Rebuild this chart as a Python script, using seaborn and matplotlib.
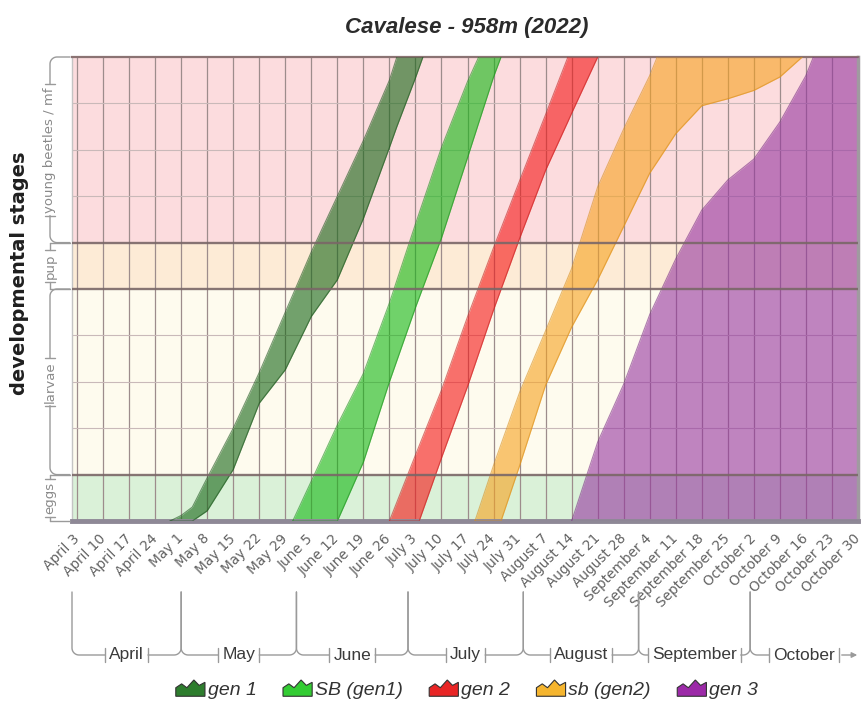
import numpy as np
import pandas as pd
import matplotlib
matplotlib.use("Agg")
import matplotlib.pyplot as plt
import matplotlib.dates as mdates
from matplotlib.lines import Line2D
from matplotlib.patches import Patch, Polygon, FancyArrowPatch
from matplotlib.legend_handler import HandlerPatch
import seaborn as sns

# ---------------- data ----------------
title = "Cavalese - 958m (2022)"
y_title = "developmental stages"

stage_names = ["eggs", "larvae", "pup", "young beetles / mf"]
stage_edges = [0, 1, 5, 6, 10]
stage_colors = ["#daf1d8", "#fefbee", "#fdebd6", "#fcdcde"]

tick_dates = ["2022-04-03", "2022-04-10", "2022-04-17", "2022-04-24", "2022-05-01",
              "2022-05-08", "2022-05-15", "2022-05-22", "2022-05-29", "2022-06-05",
              "2022-06-12", "2022-06-19", "2022-06-26", "2022-07-03", "2022-07-10",
              "2022-07-17", "2022-07-24", "2022-07-31", "2022-08-07", "2022-08-14",
              "2022-08-21", "2022-08-28", "2022-09-04", "2022-09-11", "2022-09-18",
              "2022-09-25", "2022-10-02", "2022-10-09", "2022-10-16", "2022-10-23",
              "2022-10-30"]
tick_labels = ["April 3", "April 10", "April 17", "April 24", "May 1", "May 8", "May 15",
               "May 22", "May 29", "June 5", "June 12", "June 19", "June 26", "July 3",
               "July 10", "July 17", "July 24", "July 31", "August 7", "August 14",
               "August 21", "August 28", "September 4", "September 11", "September 18",
               "September 25", "October 2", "October 9", "October 16", "October 23",
               "October 30"]

month_names = ["April", "May", "June", "July", "August", "September", "October"]
month_starts = ["2022-04-01", "2022-05-01", "2022-06-01", "2022-07-01",
                "2022-08-01", "2022-09-01", "2022-10-01"]

gen1_dates = ["2022-04-28", "2022-05-01", "2022-05-04", "2022-05-08", "2022-05-15",
              "2022-05-22", "2022-05-29", "2022-06-05", "2022-06-12", "2022-06-19",
              "2022-06-26", "2022-06-28", "2022-07-03", "2022-07-05"]
gen1_low = [0, 0, 0, 0.22, 1.11, 2.54, 3.26, 4.41, 5.2, 6.52, 8.05, 8.5, 9.55, 10]
gen1_high = [0, 0.12, 0.3, 0.93, 2.0, 3.2, 4.5, 5.8, 7.0, 8.2, 9.5, 10, 10, 10]

sb1_dates = ["2022-05-31", "2022-06-05", "2022-06-12", "2022-06-19", "2022-06-26",
             "2022-07-03", "2022-07-10", "2022-07-17", "2022-07-20", "2022-07-24",
             "2022-07-26"]
sb1_low = [0, 0, 0, 1.27, 3.0, 4.6, 6.1, 7.83, 8.58, 9.57, 10]
sb1_high = [0, 0.86, 2.07, 3.18, 4.7, 6.4, 8.05, 9.47, 10, 10, 10]

gen2_dates = ["2022-06-26", "2022-07-03", "2022-07-04", "2022-07-10", "2022-07-17",
              "2022-07-24", "2022-07-31", "2022-08-07", "2022-08-13", "2022-08-14",
              "2022-08-21"]
gen2_low = [0, 0, 0, 1.36, 2.9, 4.55, 6.09, 7.56, 8.61, 8.79, 10]
gen2_high = [0, 1.42, 1.62, 2.82, 4.4, 5.89, 7.33, 8.76, 10, 10, 10]

sb2_dates = ["2022-07-19", "2022-07-24", "2022-07-26", "2022-07-31", "2022-08-07",
             "2022-08-14", "2022-08-21", "2022-08-28", "2022-09-04", "2022-09-06",
             "2022-09-11", "2022-09-18", "2022-09-25", "2022-10-02", "2022-10-09",
             "2022-10-15"]
sb2_low = [0, 0, 0, 1.19, 2.93, 4.18, 5.2, 6.35, 7.5, 7.74, 8.35, 8.95, 9.1, 9.28, 9.57, 10]
sb2_high = [0, 1.2, 1.65, 2.77, 4.1, 5.44, 7.2, 8.45, 9.6, 10, 10, 10, 10, 10, 10, 10]

gen3_dates = ["2022-08-14", "2022-08-21", "2022-08-28", "2022-09-04", "2022-09-11",
              "2022-09-18", "2022-09-25", "2022-10-02", "2022-10-09", "2022-10-16",
              "2022-10-18", "2022-10-30"]
gen3_low = [0, 0, 0, 0, 0, 0, 0, 0, 0, 0, 0, 0]
gen3_high = [0, 1.7, 2.95, 4.45, 5.65, 6.7, 7.35, 7.8, 8.6, 9.6, 10, 10]

series_names = ["gen 1", "SB (gen1)", "gen 2", "sb (gen2)", "gen 3"]
series_fill = ["#156615", "#12b812", "#f51414", "#f7a21e", "#9535a0"]
series_edge = ["#1e561e", "#1f8f1f", "#c42020", "#d98e1a", "#7a2a85"]
series_icon = ["#2e7d2e", "#33cc33", "#e82525", "#f5b52f", "#9c2aa8"]

# ---------------- figure ----------------
sns.set_theme(style="white")
plt.rcParams["font.family"] = ["DejaVu Sans"]

W, H = 863, 702
L, R, T, B = 72, 858, 57, 521
fig = plt.figure(figsize=(W / 100, H / 100), dpi=100, facecolor="white")
ax = fig.add_axes([L / W, 1 - B / H, (R - L) / W, (B - T) / H])

xmin = mdates.date2num(pd.Timestamp("2022-04-03")) - 1.35
xmax = mdates.date2num(pd.Timestamp("2022-10-30"))

# stage background bands
for i in range(len(stage_names)):
    ax.axhspan(stage_edges[i], stage_edges[i + 1], color=stage_colors[i], lw=0, zorder=0)

# grid
tick_dt = pd.to_datetime(tick_dates)
for d in tick_dt:
    ax.axvline(d, color="#9d8c8c", lw=0.9, zorder=1)
for y in range(1, 10):
    if y in stage_edges:
        ax.axhline(y, color="#7a6767", lw=1.7, zorder=4, alpha=0.9)
    else:
        ax.axhline(y, color="#c9b9b9", lw=0.8, zorder=1)

# series bands
for name, dates, low, high, fc, ec in zip(
        series_names,
        [gen1_dates, sb1_dates, gen2_dates, sb2_dates, gen3_dates],
        [gen1_low, sb1_low, gen2_low, sb2_low, gen3_low],
        [gen1_high, sb1_high, gen2_high, sb2_high, gen3_high],
        series_fill, series_edge):
    df = pd.DataFrame({"date": pd.to_datetime(dates), "low": low, "high": high})
    ax.fill_between(df["date"], df["low"], df["high"], color=fc, alpha=0.6, lw=0, zorder=2)
    sns.lineplot(data=df, x="date", y="high", color=ec, lw=0.8, alpha=0.6,
                 ax=ax, zorder=3, estimator=None, sort=False)
    sns.lineplot(data=df, x="date", y="low", color=ec, lw=0.8, alpha=0.6,
                 ax=ax, zorder=3, estimator=None, sort=False)

ax.set_xlim(xmin, xmax)
ax.set_ylim(0, 10)
ax.set_xlabel("")
ax.set_ylabel("")
ax.set_yticks([])
ax.set_xticks(tick_dt)
ax.set_xticklabels(tick_labels, rotation=45, ha="right", va="center",
                   rotation_mode="anchor", fontsize=9.8, color="#626262")
ax.tick_params(axis="x", length=0, pad=11)

for side, col, lw in [("top", "#8b7373", 1.6), ("left", "#c4c4c4", 1.0),
                      ("right", "#a09aa0", 2.5), ("bottom", "#8e8896", 3.5)]:
    ax.spines[side].set_visible(True)
    ax.spines[side].set_color(col)
    ax.spines[side].set_linewidth(lw)

# titles
fig.text(467 / W, 1 - 27 / H, title, ha="center", va="center", fontsize=16,
         fontweight="bold", fontstyle="italic", family="Liberation Sans", color="#2b2b2b")
fig.text(20 / W, 1 - 273 / H, y_title, rotation=90, ha="center", va="center",
         fontsize=14, fontweight="bold", color="#1f1f1f")

# ---------------- bracket axes (decoration) ----------------
fig.canvas.draw()
renderer = fig.canvas.get_renderer()
bcol = "#9a9a9a"


def to_px(xd, yd):
    X, Y = ax.transData.transform((xd, yd))
    return X, H - Y


def pline(xs, ys, **kw):
    kw.setdefault("color", bcol)
    kw.setdefault("lw", 1.0)
    fig.add_artist(Line2D([x / W for x in xs], [1 - y / H for y in ys],
                          transform=fig.transFigure, **kw))


th = np.linspace(0, np.pi / 2, 12)

# month brackets along x
y_top, y_br, r, tk = 592, 655, 7, 7
left_px = to_px(xmin, 0)[0]
right_px = to_px(xmax, 0)[0]
starts = [max(to_px(mdates.date2num(pd.Timestamp(m)), 0)[0], left_px) for m in month_starts]
starts.append(right_px)
for i, name in enumerate(month_names):
    s, e = starts[i], starts[i + 1]
    c = (s + e) / 2
    t = fig.text(c / W, 1 - y_br / H, name, ha="center", va="center", fontsize=12.5,
                 family="Liberation Sans", color="#3a3a3a")
    bb = t.get_window_extent(renderer)
    tl, tr = bb.x0 - 4, bb.x1 + 4
    pline([tl, tl], [y_br - tk, y_br + tk])
    pline([tr, tr], [y_br - tk, y_br + tk])
    if tl - s > r + 2:
        pline([s, *(s + r - r * np.cos(th)), tl], [y_top, *(y_br - r + r * np.sin(th)), y_br])
    else:
        pline([s, s], [y_top, y_br])
        pline([s, tl], [y_br, y_br])
    if i == len(month_names) - 1:
        fig.add_artist(FancyArrowPatch(((tr) / W, 1 - y_br / H), ((e + 2) / W, 1 - y_br / H),
                                       transform=fig.transFigure, arrowstyle="-|>",
                                       mutation_scale=8, color=bcol, lw=1.0))
    elif e - tr > r + 2:
        pline([tr, *(e - r + r * np.sin(th)), e], [y_br, *(y_br - r + r * np.cos(th)), y_top])
    else:
        pline([tr, e], [y_br, y_br])

# stage brackets along y
x_main, x_end = 50, 70
for i, name in enumerate(stage_names):
    a_px = to_px(xmin, stage_edges[i])[1]
    b_px = to_px(xmin, stage_edges[i + 1])[1]
    c = (a_px + b_px) / 2
    t = fig.text(x_main / W, 1 - c / H, name, rotation=90, ha="center", va="center",
                 fontsize=9.5, color="#8a8a8a")
    bb = t.get_window_extent(renderer)
    tb = H - bb.y0 + 3
    tt = H - bb.y1 - 3
    pline([x_main - 5, x_main + 5], [tb, tb])
    pline([x_main - 5, x_main + 5], [tt, tt])
    if a_px - tb > r + 2:
        pline([x_main, *(x_main + r - r * np.cos(th)), x_end], [tb, *(a_px - r + r * np.sin(th)), a_px])
    else:
        pline([x_main, x_main], [tb, a_px])
        pline([x_main, x_end], [a_px, a_px])
    if tt - b_px > r + 2:
        pline([x_main, *(x_main + r - r * np.cos(th)), x_end], [tt, *(b_px + r - r * np.sin(th)), b_px])
    else:
        pline([x_main, x_main], [tt, b_px])
        pline([x_main, x_end], [b_px, b_px])


# ---------------- legend ----------------
class MountainHandler(HandlerPatch):
    def create_artists(self, legend, orig_handle, xdescent, ydescent, width, height,
                       fontsize, trans):
        pts = np.array([[0, 0], [0, 0.55], [0.2, 0.8], [0.38, 0.55], [0.62, 1.05],
                        [0.8, 0.7], [1, 0.9], [1, 0]])
        xy = np.column_stack([pts[:, 0] * width - xdescent, pts[:, 1] * height - ydescent])
        p = Polygon(xy, closed=True, facecolor=orig_handle.get_facecolor(),
                    edgecolor=orig_handle.get_edgecolor(), lw=0.8, transform=trans)
        return [p]


handles = [Patch(facecolor=fc, edgecolor="#333333", label=n)
           for n, fc in zip(series_names, series_icon)]
fig.legend(handles=handles, loc="center", bbox_to_anchor=(467 / W, 1 - 690 / H),
           ncol=5, frameon=False, handlelength=1.5, handleheight=0.85, handletextpad=0.15,
           columnspacing=1.35, handler_map={Patch: MountainHandler()},
           prop=dict(family="Liberation Sans", style="italic", size=14),
           labelcolor="#333333")

fig.savefig("out.png", dpi=100, facecolor="white")
